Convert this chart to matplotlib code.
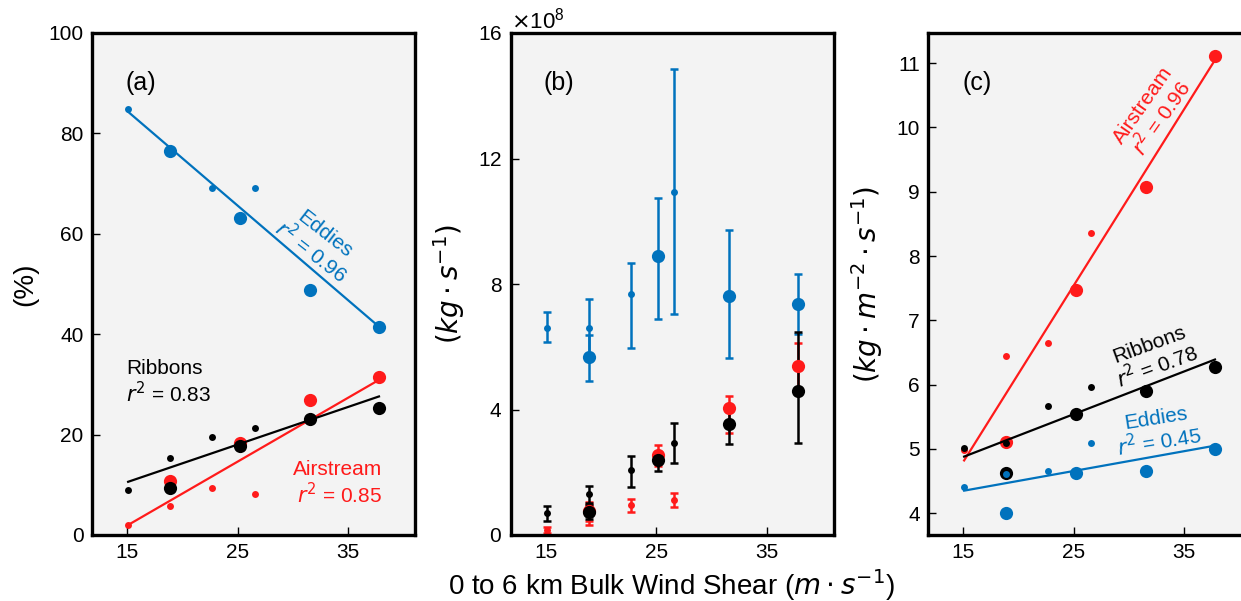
import numpy as np
import matplotlib
matplotlib.use('Agg')
import matplotlib.pyplot as plt
from matplotlib.ticker import ScalarFormatter

plt.rcParams['font.family'] = ['Liberation Sans', 'DejaVu Sans']
plt.rcParams['mathtext.fontset'] = 'dejavusans'

BLUE = '#0072bd'
RED = '#ff1a1a'
BLACK = '#000000'

# shear values (m/s) for the two point groups
shear_small = np.array([15.1, 18.9, 22.7, 26.6])
shear_large = np.array([18.9, 25.2, 31.6, 37.8])
fit_x = np.array([15.1, 37.8])

# (a) percent
a_eddies_small = np.array([84.9, 76.5, 69.2, 69.1])
a_eddies_large = np.array([76.5, 63.1, 48.9, 41.4])
a_ribbons_small = np.array([9.0, 15.3, 19.6, 21.4])
a_ribbons_large = np.array([9.3, 17.8, 23.2, 25.2])
a_air_small = np.array([2.0, 5.8, 9.4, 8.1])
a_air_large = np.array([10.8, 18.3, 26.8, 31.4])
a_eddies_fit = np.array([84.3, 41.5])
a_ribbons_fit = np.array([10.6, 27.6])
a_air_fit = np.array([2.0, 30.9])

# (b) mass flux, units of 1e8 kg/s : value, lower, upper
b_eddies_small = np.array([6.59, 6.61, 7.67, 10.93])
b_eddies_small_lo = np.array([6.14, 5.70, 5.95, 7.04])
b_eddies_small_hi = np.array([7.12, 7.52, 8.66, 14.85])
b_eddies_large = np.array([5.67, 8.90, 7.63, 7.35])
b_eddies_large_lo = np.array([4.92, 6.87, 5.63, 6.40])
b_eddies_large_hi = np.array([6.37, 10.73, 9.72, 8.32])
b_air_small = np.array([0.16, 0.65, 0.96, 1.12])
b_air_small_lo = np.array([0.07, 0.32, 0.74, 0.88])
b_air_small_hi = np.array([0.24, 0.95, 1.14, 1.33])
b_air_large = np.array([0.75, 2.55, 4.06, 5.40])
b_air_large_lo = np.array([0.45, 2.20, 3.24, 4.69])
b_air_large_hi = np.array([1.05, 2.87, 4.44, 6.11])
b_ribbons_small = np.array([0.71, 1.30, 2.07, 2.94])
b_ribbons_small_lo = np.array([0.46, 1.01, 1.54, 2.29])
b_ribbons_small_hi = np.array([0.93, 1.57, 2.52, 3.58])
b_ribbons_large = np.array([0.72, 2.39, 3.54, 4.59])
b_ribbons_large_lo = np.array([0.50, 2.05, 2.90, 2.92])
b_ribbons_large_hi = np.array([0.95, 2.62, 4.09, 6.46])

# (c) mass flux per area
c_air_small = np.array([4.98, 6.45, 6.64, 8.36])
c_air_large = np.array([5.11, 7.47, 9.07, 11.11])
c_ribbons_small = np.array([5.02, 5.09, 5.66, 5.97])
c_ribbons_large = np.array([4.62, 5.54, 5.90, 6.27])
c_eddies_small = np.array([4.40, 4.61, 4.66, 5.09])
c_eddies_large = np.array([4.01, 4.63, 4.65, 5.00])
c_air_fit = np.array([4.82, 11.05])
c_ribbons_fit = np.array([4.88, 6.39])
c_eddies_fit = np.array([4.35, 5.05])

MS_S, MS_L = 5, 9.5
TICK_FS = 15
LBL_FS = 20
ANN_FS = 15

fig = plt.figure(figsize=(12.41, 6.01), dpi=100)
W = 323 / 1241
H = (535 - 33) / 601
B = 1 - 535 / 601
ax_a = fig.add_axes([92 / 1241, B, W, H])
ax_b = fig.add_axes([510.7 / 1241, B, W, H])
ax_c = fig.add_axes([928 / 1241, B, W, H])

for ax in (ax_a, ax_b, ax_c):
    ax.set_facecolor('#f3f3f3')
    for s in ax.spines.values():
        s.set_linewidth(2.4)
    ax.tick_params(direction='in', length=6, width=1, labelsize=TICK_FS, pad=6,
                   top=False, right=False)
    ax.set_xlim(11.83, 41.06)
    ax.set_xticks([15, 25, 35])


def pts(ax, ys, yl, col):
    ax.plot(shear_small, ys, 'o', color=col, ms=MS_S, mec='none')
    ax.plot(shear_large, yl, 'o', color=col, ms=MS_L, mec='none')


# ---- (a)
ax = ax_a
pts(ax, a_eddies_small, a_eddies_large, BLUE)
ax.plot(fit_x, a_eddies_fit, color=BLUE, lw=1.6)
pts(ax, a_air_small, a_air_large, RED)
ax.plot(fit_x, a_air_fit, color=RED, lw=1.6)
pts(ax, a_ribbons_small, a_ribbons_large, BLACK)
ax.plot(fit_x, a_ribbons_fit, color=BLACK, lw=1.6)
ax.set_ylim(0, 100)
ax.set_yticks([0, 20, 40, 60, 80, 100])
ax.text(14.9, 90, '(a)', fontsize=18, ha='left', va='center')
ax.text(32.2, 58.0, 'Eddies\n$r^2$ = 0.96', color=BLUE, fontsize=ANN_FS,
        rotation=-38, ha='center', va='center', multialignment='center',
        rotation_mode='anchor', linespacing=1.0)
ax.text(14.9, 30.3, 'Ribbons\n$r^2$ = 0.83', color=BLACK, fontsize=ANN_FS,
        ha='left', va='center', linespacing=1.15)
ax.text(38.05, 10.3, 'Airstream\n$r^2$ = 0.85', color=RED, fontsize=ANN_FS,
        ha='right', va='center', multialignment='right', linespacing=1.15)
ax.set_ylabel('(%)', fontsize=LBL_FS)
ax.yaxis.set_label_coords(-0.167, 0.5)

# ---- (b)
ax = ax_b
S = 1e8


def ebar(xs, y, lo, hi, col, ms):
    ax.errorbar(xs, y * S, yerr=[(y - lo) * S, (hi - y) * S], fmt='o',
                color=col, ms=ms, mec='none', elinewidth=1.8, capsize=3,
                capthick=1.8)


ebar(shear_small, b_eddies_small, b_eddies_small_lo, b_eddies_small_hi, BLUE, MS_S)
ebar(shear_large, b_eddies_large, b_eddies_large_lo, b_eddies_large_hi, BLUE, MS_L)
ebar(shear_small, b_air_small, b_air_small_lo, b_air_small_hi, RED, MS_S)
ebar(shear_large, b_air_large, b_air_large_lo, b_air_large_hi, RED, MS_L)
ebar(shear_small, b_ribbons_small, b_ribbons_small_lo, b_ribbons_small_hi, BLACK, MS_S)
ebar(shear_large, b_ribbons_large, b_ribbons_large_lo, b_ribbons_large_hi, BLACK, MS_L)
ax.set_ylim(0, 16e8)
ax.set_yticks(np.array([0, 4, 8, 12, 16]) * S)
fmt = ScalarFormatter(useMathText=True)
fmt.set_powerlimits((8, 8))
ax.yaxis.set_major_formatter(fmt)
ax.yaxis.get_offset_text().set_fontsize(16)
ax.text(14.8, 14.4e8, '(b)', fontsize=18, ha='left', va='center')
ax.set_ylabel(r'$(kg \cdot s^{-1})$', fontsize=LBL_FS)
ax.yaxis.set_label_coords(-0.136, 0.5)

# ---- (c)
ax = ax_c
pts(ax, c_air_small, c_air_large, RED)
ax.plot(fit_x, c_air_fit, color=RED, lw=1.6)
pts(ax, c_ribbons_small, c_ribbons_large, BLACK)
ax.plot(fit_x, c_ribbons_fit, color=BLACK, lw=1.6)
pts(ax, c_eddies_small, c_eddies_large, BLUE)
ax.plot(fit_x, c_eddies_fit, color=BLUE, lw=1.6)
ax.set_ylim(3.66, 11.47)
ax.set_yticks([4, 5, 6, 7, 8, 9, 10, 11])
ax.text(14.97, 10.69, '(c)', fontsize=18, ha='left', va='center')
ax.text(32.2, 10.24, 'Airstream\n$r^2$ = 0.96', color=RED, fontsize=ANN_FS,
        rotation=55, ha='center', va='center', multialignment='center',
        rotation_mode='anchor', linespacing=1.0)
ax.text(32.25, 6.43, 'Ribbons\n$r^2$ = 0.78', color=BLACK, fontsize=ANN_FS,
        rotation=20, ha='center', va='center', multialignment='center',
        rotation_mode='anchor', linespacing=1.0)
ax.text(32.6, 5.27, 'Eddies\n$r^2$ = 0.45', color=BLUE, fontsize=ANN_FS,
        rotation=9, ha='center', va='center', multialignment='center',
        rotation_mode='anchor', linespacing=1.0)
ax.set_ylabel(r'$(kg \cdot m^{-2} \cdot s^{-1})$', fontsize=LBL_FS)
ax.yaxis.set_label_coords(-0.134, 0.5)

fig.text(671 / 1241, 1 - 585 / 601,
         r'0 to 6 km Bulk Wind Shear ($m \cdot s^{-1}$)',
         fontsize=LBL_FS, ha='center', va='center')

fig.savefig('out.png', dpi=100)
